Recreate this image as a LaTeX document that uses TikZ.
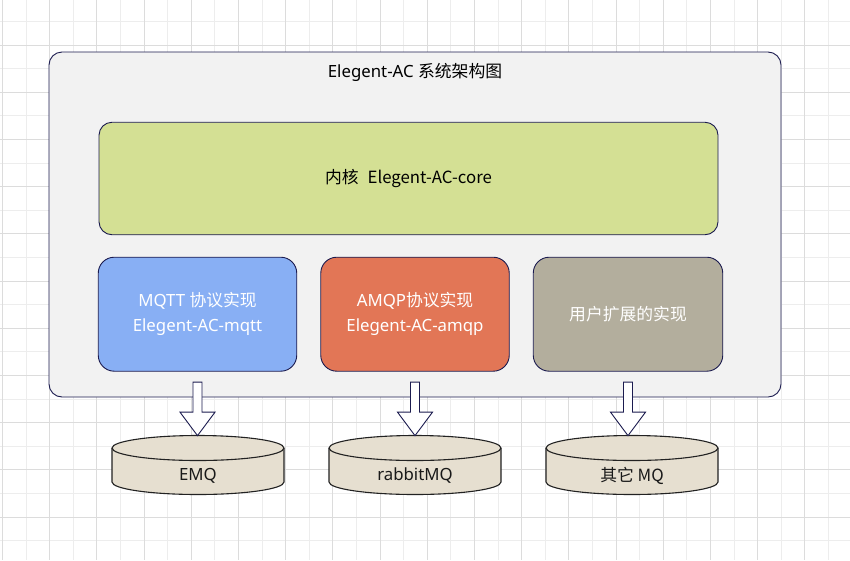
\documentclass[tikz,border=0pt]{standalone}
\usepackage{fontspec}
\setmainfont{Noto Sans}
\newfontfamily\cjk{Noto Sans CJK SC}
\usetikzlibrary{calc}
\definecolor{gridminor}{HTML}{EDEDED}
\definecolor{gridmajor}{HTML}{DCDCDC}
\definecolor{navy}{HTML}{1B1B4F}
\definecolor{panel}{HTML}{F2F2F2}
\definecolor{corefill}{HTML}{D4E094}
\definecolor{mqttfill}{HTML}{88AFF4}
\definecolor{amqpfill}{HTML}{E27656}
\definecolor{userfill}{HTML}{B3AE9D}
\definecolor{cylfill}{HTML}{E6DFD0}
\definecolor{cylline}{HTML}{222222}
\tikzset{
  txt/.style={font=\fontsize{16.8}{25}\selectfont, inner sep=0pt, align=center},
  panelbox/.style={draw=navy, line width=0.9pt, fill=panel, rounded corners=13pt},
  corebox/.style={draw=navy, line width=0.9pt, fill=corefill, rounded corners=13pt, txt, text=black},
  implbox/.style={draw=navy, line width=0.9pt, rounded corners=16pt, txt, text=white, minimum height=114pt},
  blockarrow/.style={draw=navy, line width=0.9pt, fill=white, line join=miter},
  cyl/.style={draw=cylline, line width=1.1pt, fill=cylfill},
  cyltext/.style={txt, text=black!90},
}
\begin{document}
\begin{tikzpicture}[x=1pt,y=-1pt]
\useasboundingbox (0,0) rectangle (850,560);
\fill[white] (0,0) rectangle (850,560);
% grid
\foreach \i in {0,...,17} {
  \draw[gridminor, line width=0.9pt] ({26.1+47.2*\i},0) -- ({26.1+47.2*\i},560);
}
\foreach \j in {0,...,11} {
  \draw[gridminor, line width=0.9pt] (0,{21.4+47.2*\j}) -- (850,{21.4+47.2*\j});
}
\foreach \i in {0,...,17} {
  \draw[gridmajor, line width=0.9pt] ({2.5+47.2*\i},0) -- ({2.5+47.2*\i},560);
}
\foreach \j in {1,...,11} {
  \draw[gridmajor, line width=0.9pt] (0,{-2.2+47.2*\j}) -- (850,{-2.2+47.2*\j});
}
% system panel
\node[panelbox, minimum width=732pt, minimum height=345pt] (sys) at (415,224.5) {};
\node[txt, text=black] (title) at (415,72) {Elegent-AC \cjk{系统架构图}};
% core
\node[corebox, minimum width=619pt, minimum height=112.5pt] (core) at (408.5,178.5) {\cjk{内核}\hspace{9pt}Elegent-AC-core};
% implementations
\node[implbox, fill=mqttfill, minimum width=198.5pt] (mqtt) at (197.5,314.2) {MQTT \cjk{协议实现}\\Elegent-AC-mqtt};
\node[implbox, fill=amqpfill, minimum width=188.5pt] (amqp) at (415,314.2) {AMQP\cjk{协议实现}\\Elegent-AC-amqp};
\node[implbox, fill=userfill, minimum width=189.5pt] (user) at (628,314.2) {\cjk{用户扩展的实现}};
% cylinders
\foreach \cx/\nm/\lbl in {198/emq/{EMQ}, 415/rabbit/{rabbitMQ}, 632/other/{\cjk{其它} MQ}} {
  \filldraw[cyl] (\cx-86,448) -- (\cx-86,482)
    arc[start angle=180, end angle=360, x radius=86pt, y radius=12.5pt]
    -- (\cx+86,448)
    arc[start angle=0, end angle=180, x radius=86pt, y radius=12.5pt] -- cycle;
  \draw[cylline, line width=1.1pt] (\cx-86,448)
    arc[start angle=180, end angle=360, x radius=86pt, y radius=12.5pt];
  \node[cyltext] (\nm) at (\cx,475.5) {\lbl};
}
% block arrows
\foreach \src in {mqtt, amqp, user} {
  \draw[blockarrow] ($(\src.south)+(-4.5,10.5)$) -- ++(9,0) -- ++(0,30) -- ++(13,0)
    -- ++(-17.5,23.5) -- ++(-17.5,-23.5) -- ++(13,0) -- cycle;
}
\end{tikzpicture}
\end{document}
